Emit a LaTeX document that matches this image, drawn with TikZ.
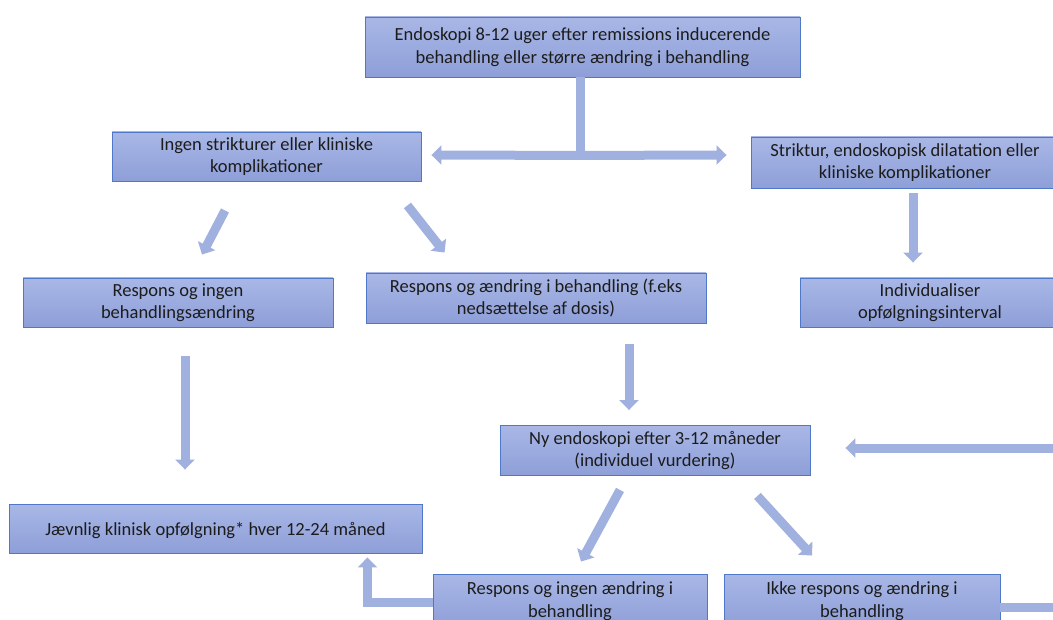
\documentclass[tikz,border=0pt]{standalone}
\usepackage{fontspec}
\setmainfont{Carlito}
\usetikzlibrary{arrows.meta,calc}
\definecolor{boxtop}{HTML}{A9B7E6}
\definecolor{boxbot}{HTML}{8E9FD8}
\definecolor{boxline}{HTML}{4F78C8}
\definecolor{arr}{HTML}{A0B1E0}
\definecolor{txt}{HTML}{1C1C1C}
\tikzset{
  box/.style={draw=boxline, line width=0.9pt, top color=boxtop, bottom color=boxbot,
    align=center, inner sep=0pt, text=txt,
    font=\fontsize{18.5}{22.5}\selectfont,
    execute at begin node={\rule{0pt}{17.5pt}}},
  blk/.style={draw=arr, line width=9pt},
  blkarr/.style={blk, -{Triangle[width=19pt,length=10pt]}}
}
\begin{document}
\begin{tikzpicture}[x=1pt,y=-1pt]
\useasboundingbox (0,0) rectangle (1053,620);
\clip (0,0) rectangle (1053,620);

\node[box, minimum width=435pt, minimum height=60pt] (top) at (582.5,47)
  {Endoskopi 8-12 uger efter remissions inducerende\\behandling eller større ændring i behandling};
\node[box, minimum width=309pt, minimum height=49pt] (ingen) at (266.5,156.5)
  {Ingen strikturer eller kliniske\\komplikationer};
\node[box, minimum width=308pt, minimum height=51pt] (strik) at (905,162.5)
  {Striktur, endoskopisk dilatation eller\\kliniske komplikationer};
\node[box, minimum width=260pt, minimum height=49pt] (indiv) at (930,302.5)
  {Individualiser\\opfølgningsinterval};
\node[box, minimum width=310pt, minimum height=49pt] (resp1) at (178,302.5)
  {Respons og ingen\\behandlingsændring};
\node[box, minimum width=340pt, minimum height=50pt] (resp2) at (536,298)
  {Respons og ændring i behandling (f.eks\\nedsættelse af dosis)};
\node[box, minimum width=310pt, minimum height=50pt] (ny) at (655,450.5)
  {Ny endoskopi efter 3-12 måneder\\(individuel vurdering)};
\node[box, minimum width=413pt, minimum height=49pt] (jaev) at (215.5,528.5)
  {Jævnlig klinisk opfølgning* hver 12-24 måned};
\node[box, minimum width=274pt, minimum height=54pt] (resp3) at (570,601)
  {Respons og ingen ændring i\\behandling};
\node[box, minimum width=276pt, minimum height=54pt] (ikke) at (862,601)
  {Ikke respons og ændring i\\behandling};

% top split
\coordinate (j) at ($(top.south)+(-2.5,78)$);
\draw[blk] ($(top.south)+(-2.5,0)$) -- ($(j)+(0,4.5)$);
\draw[blkarr] (j) -- ($(ingen.east)+(10,-1.5)$);
\draw[blkarr] (j) -- ($(strik.west)+(-24,-7.5)$);

% from Ingen
\draw[blkarr] ($(ingen.south)+(-41.5,29)$) -- ($(resp1.north)+(24,-23)$);
\draw[blkarr] ($(ingen.south east)+(-14,24)$) -- ($(resp2.north west)+(79,-20)$);

% from Striktur
\draw[blkarr] ($(strik.south)+(8,5)$) -- ($(indiv.north)+(-17,-15)$);

% from Respons 1
\draw[blkarr] ($(resp1.south)+(7,29)$) -- ($(jaev.north)+(-30.5,-34)$);

% from Respons 2
\draw[blkarr] ($(resp2.south)+(93,21)$) -- ($(ny.north)+(-26,-15)$);

% from Ny
\draw[blkarr] ($(ny.south)+(-35,14)$) -- ($(resp3.north)+(11,-12)$);
\draw[blkarr] ($(ny.south east)+(-53,20)$) -- ($(ikke.north)+(-50,-18)$);

% Respons 3 back to Jaevnlig
\draw[blkarr] ($(resp3.west)+(0,1)$) -| ($(jaev.south east)+(-55,4)$);

% loop on the right
\draw[blkarr] ($(ikke.east)+(0,6)$) -- (1075,607) -- (1075,448) -- ($(ny.east)+(35,-2.5)$);
\end{tikzpicture}
\end{document}
